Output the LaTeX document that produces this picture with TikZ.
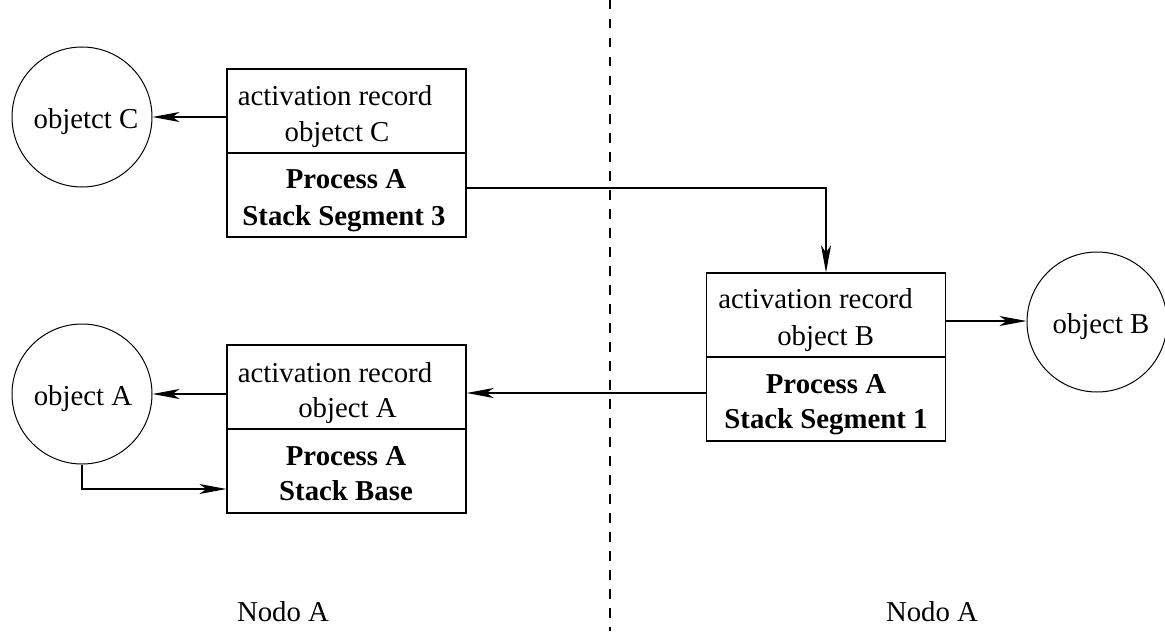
\documentclass[tikz,border=0pt]{standalone}
\usepackage{fontspec}
\setmainfont{Liberation Serif}
\usetikzlibrary{arrows.meta}
\begin{document}
\begin{tikzpicture}[x=0.5pt,y=-0.5pt,
  font=\fontsize{14.4}{18}\selectfont,
  every path/.style={line width=0.6pt},
  cell/.style={draw, rectangle, minimum width=119.5pt, minimum height=42pt, inner sep=0pt},
  obj/.style={draw, circle, minimum size=70pt, inner sep=0pt, line width=0.5pt},
  txt/.style={inner sep=0pt, anchor=base},
  btxt/.style={inner sep=0pt, anchor=base, font=\fontsize{14.4}{18}\selectfont\bfseries},
  arr/.style={-{Stealth[length=13.5pt, width=5pt, inset=3.5pt]}}
]
\useasboundingbox (0,0) rectangle (1165,631);

% dashed separator
\coordinate (dtop) at (610,0);
\coordinate (dbot) at (610,631);
\draw[dash pattern=on 4.75pt off 4.75pt] (dtop) -- (dbot);

% circles
\node[obj] (cC) at (82,117) {};
\node[obj] (cA) at (82,394) {};
\node[obj] (cB) at (1097,322) {};
\node[txt] (tC) at (86,128) {objetct C};
\node[txt] (tA) at (83,405) {object A};
\node[txt] (tB) at (1101,333) {object B};

% box C
\node[cell] (boxCtop) at (346.5,111) {};
\node[cell] (boxCbot) at (346.5,195) {};
\node[txt] (c1) at (335,105) {activation record};
\node[txt] (c2) at (337,141) {objetct C};
\node[btxt] (c3) at (346,188) {Process A};
\node[btxt] (c4) at (344,225) {Stack Segment 3};

% box A
\node[cell] (boxAtop) at (346.5,387) {};
\node[cell] (boxAbot) at (346.5,471) {};
\node[txt] (a1) at (335,382) {activation record};
\node[txt] (a2) at (347.5,417) {object A};
\node[btxt] (a3) at (346,465) {Process A};
\node[btxt] (a4) at (346,500) {Stack Base};

% box B
\node[cell] (boxBtop) at (826,315) {};
\node[cell] (boxBbot) at (826,399) {};
\node[txt] (b1) at (815.5,308) {activation record};
\node[txt] (b2) at (825.7,345) {object B};
\node[btxt] (b3) at (826,393) {Process A};
\node[btxt] (b4) at (826,428) {Stack Segment 1};

% labels
\node[txt] (n1) at (283,621) {Nodo A};
\node[txt] (n2) at (932,621) {Nodo A};

% connectors
\draw[arr] (boxCtop.west |- cC) -- (cC.east);
\draw[arr] ([yshift=3.5pt]boxCbot.east) -| (boxBtop.north);
\draw[arr] ([yshift=-3pt]boxBtop.east) -- ([yshift=-3pt]boxBtop.east -| cB.west);
\draw[arr] ([yshift=3pt]boxBbot.west) -- ([yshift=-3pt]boxAtop.east);
\draw[arr] (boxAtop.west |- cA) -- (cA.east);
\draw[arr] (cA.south) |- ([yshift=-9pt]boxAbot.west);
\end{tikzpicture}
\end{document}
